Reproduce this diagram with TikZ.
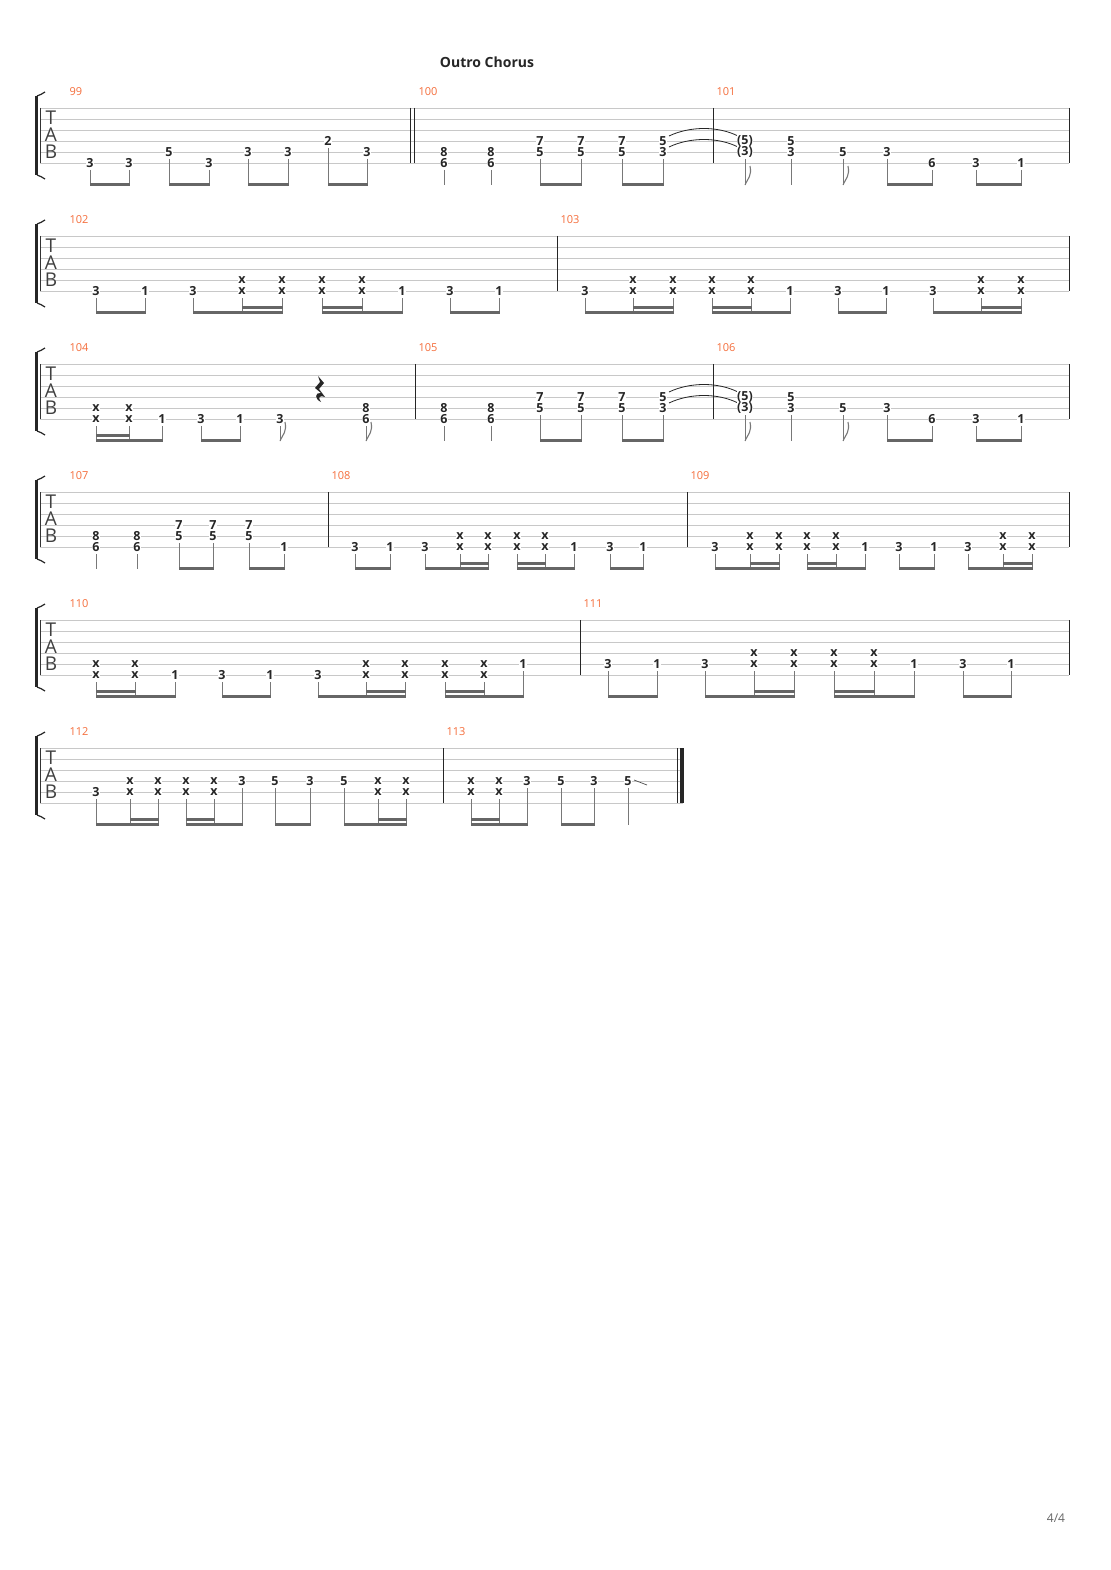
\documentclass[tikz,border=0pt]{standalone}
\usepackage{fontspec}
\setmainfont{Open Sans}
\begin{document}
\begin{tikzpicture}[x=1pt,y=-1pt]
\definecolor{mnum}{RGB}{245,110,60}
\definecolor{stl}{RGB}{200,200,200}
\definecolor{stc}{RGB}{120,120,120}
\tikzset{num/.style={fill=white,inner sep=0.6pt,font=\fontsize{12.5}{12.5}\selectfont\bfseries,text=black!85},
 stemc/.style={draw=stc,line width=0.9pt},
 tabl/.style={font=\fontsize{19}{19}\selectfont,text=black!75,inner sep=0pt},
 mn/.style={font=\fontsize{11}{11}\selectfont,text=mnum,anchor=west}}
\useasboundingbox (0,0) rectangle (1110,1570);
\fill[white] (0,0) rectangle (1110,1570);
\newcommand\sysx[1]{%
 \foreach \k in {0,...,5}{\draw[stl,line width=0.8pt] (40,\k*11) -- (#1,\k*11);}
 \draw[black!80,line width=0.6pt] (40,0) -- (40,55);
 \fill[black!85] (35,-12) rectangle (38,67);
 \draw[black!85,line width=1.2pt] (37,-12) .. controls (40,-13) and (42,-14) .. (45,-16);
 \draw[black!85,line width=1.2pt] (37,67) .. controls (40,68) and (42,69) .. (45,71);
 \node[tabl] at (51,10) {T};
 \node[tabl] at (51,27) {A};
 \node[tabl] at (51,44) {B};}
\newcommand\bl[1]{\draw[black!85,line width=1pt] (#1,0) -- (#1,55);}
\newcommand\mnm[2]{\node[mn] at (#1,-16) {#2};}
\newcommand\nt[3]{\node[num] at (#1,{(#2-1)*11}) {#3};}
\newcommand\st[2]{\draw[stemc] (#1,{(#2-1)*11+7}) -- (#1,77);}
\newcommand\sn[3]{\nt{#1}{#2}{#3}\st{#1}{#2}}
\newcommand\xs[2]{\nt{#1}{#2}{x}\sn{#1}{#2+1}{x}}
\newcommand\bm[2]{\fill[black!60] (#1-0.5,75.3) rectangle (#2+0.5,78);}
\newcommand\bmm[2]{\fill[black!60] (#1-0.5,70.3) rectangle (#2+0.5,73);}
\newcommand\fl[1]{\draw[stemc,line width=1.1pt] (#1,77) .. controls (#1+3,70) and (#1+7,68) .. (#1+5,58);}
\newcommand\chd[5]{\nt{#1}{#2}{#3}\sn{#1}{#4}{#5}}
\newcommand\mA{%
 \chd{444}{5}{8}{6}{6}\chd{491}{5}{8}{6}{6}
 \chd{540}{4}{7}{5}{5}\chd{581}{4}{7}{5}{5}\chd{622}{4}{7}{5}{5}\chd{663}{4}{5}{5}{3}
 \bm{540}{581}\bm{622}{663}
 \draw[black!85,line width=0.8pt] (669,28) .. controls (690,18) and (718,18) .. (738,28);
 \draw[black!85,line width=0.8pt] (669,39) .. controls (690,29) and (718,29) .. (738,39);}
\newcommand\mB{%
 \chd{745}{4}{(5)}{5}{(3)}\fl{745}
 \chd{791}{4}{5}{5}{3}
 \sn{843}{5}{5}\fl{843}
 \sn{887}{5}{3}\sn{932}{6}{6}\bm{887}{932}
 \sn{976}{6}{3}\sn{1021}{6}{1}\bm{976}{1021}}
\node[font=\fontsize{14}{14}\selectfont\bfseries,text=black!85] at (487,62) {Outro Chorus};
\node[font=\fontsize{12}{12}\selectfont,text=black!60] at (1056,1518) {4/4};
\begin{scope}[shift={(0,108)}]
\sysx{1069}
\bl{410}\bl{414}\bl{713}\bl{1069}
\mnm{66}{99}\mnm{415}{100}\mnm{713}{101}
\sn{90}{6}{3}\sn{129}{6}{3}\bm{90}{129}
\sn{169}{5}{5}\sn{209}{6}{3}\bm{169}{209}
\sn{248}{5}{3}\sn{288}{5}{3}\bm{248}{288}
\sn{328}{4}{2}\sn{367}{5}{3}\bm{328}{367}
\mA\mB
\end{scope}
\begin{scope}[shift={(0,236)}]
\sysx{1069}
\bl{557}\bl{1069}
\mnm{66}{102}\mnm{557}{103}
\sn{96}{6}{3}\sn{145}{6}{1}\bm{96}{145}
\sn{193}{6}{3}\xs{242}{5}\xs{282}{5}\bm{193}{282}\bmm{242}{282}
\xs{322}{5}\xs{362}{5}\sn{402}{6}{1}\bm{322}{402}\bmm{322}{362}
\sn{450}{6}{3}\sn{499}{6}{1}\bm{450}{499}
\sn{585}{6}{3}\xs{633}{5}\xs{673}{5}\bm{585}{673}\bmm{633}{673}
\xs{712}{5}\xs{751}{5}\sn{790}{6}{1}\bm{712}{790}\bmm{712}{751}
\sn{838}{6}{3}\sn{886}{6}{1}\bm{838}{886}
\sn{933}{6}{3}\xs{981}{5}\xs{1021}{5}\bm{933}{1021}\bmm{981}{1021}
\end{scope}
\begin{scope}[shift={(0,364)}]
\sysx{1069}
\bl{415}\bl{713}\bl{1069}
\mnm{66}{104}\mnm{415}{105}\mnm{713}{106}
\xs{96}{5}\xs{129}{5}\sn{162}{6}{1}\bm{96}{162}\bmm{96}{129}
\sn{201}{6}{3}\sn{240}{6}{1}\bm{201}{240}
\sn{280}{6}{3}\fl{280}
\fill[black!85] (318,12) -- (324,19) -- (319,25) -- (325,33) .. controls (320,31) and (317,33) .. (321,38) .. controls (314,35) and (315,28) .. (321,29) -- (315,24) -- (320,18) -- cycle;
\chd{366}{5}{8}{6}{6}\fl{366}
\mA\mB
\end{scope}
\begin{scope}[shift={(0,492)}]
\sysx{1069}
\bl{328}\bl{687}\bl{1069}
\mnm{66}{107}\mnm{328}{108}\mnm{687}{109}
\chd{96}{5}{8}{6}{6}\chd{137}{5}{8}{6}{6}
\chd{179}{4}{7}{5}{5}\chd{213}{4}{7}{5}{5}\bm{179}{213}
\chd{249}{4}{7}{5}{5}\sn{284}{6}{1}\bm{249}{284}
\sn{355}{6}{3}\sn{390}{6}{1}\bm{355}{390}
\sn{425}{6}{3}\xs{460}{5}\xs{488}{5}\bm{425}{488}\bmm{460}{488}
\xs{517}{5}\xs{545}{5}\sn{574}{6}{1}\bm{517}{574}\bmm{517}{545}
\sn{610}{6}{3}\sn{643}{6}{1}\bm{610}{643}
\sn{715}{6}{3}\xs{750}{5}\xs{779}{5}\bm{715}{779}\bmm{750}{779}
\xs{807}{5}\xs{836}{5}\sn{865}{6}{1}\bm{807}{865}\bmm{807}{836}
\sn{899}{6}{3}\sn{934}{6}{1}\bm{899}{934}
\sn{968}{6}{3}\xs{1003}{5}\xs{1032}{5}\bm{968}{1032}\bmm{1003}{1032}
\end{scope}
\begin{scope}[shift={(0,620)}]
\sysx{1069}
\bl{580}\bl{1069}
\mnm{66}{110}\mnm{580}{111}
\xs{96}{5}\xs{135}{5}\sn{175}{6}{1}\bm{96}{175}\bmm{96}{135}
\sn{222}{6}{3}\sn{270}{6}{1}\bm{222}{270}
\sn{318}{6}{3}\xs{366}{5}\xs{405}{5}\bm{318}{405}\bmm{366}{405}
\xs{445}{5}\xs{484}{5}\sn{523}{5}{1}\bm{445}{523}\bmm{445}{484}
\sn{608}{5}{3}\sn{657}{5}{1}\bm{608}{657}
\sn{705}{5}{3}\xs{754}{4}\xs{794}{4}\bm{705}{794}\bmm{754}{794}
\xs{834}{4}\xs{874}{4}\sn{914}{5}{1}\bm{834}{914}\bmm{834}{874}
\sn{963}{5}{3}\sn{1011}{5}{1}\bm{963}{1011}
\end{scope}
\begin{scope}[shift={(0,748)}]
\sysx{683}
\bl{443}\draw[black!85,line width=0.8pt] (677,0) -- (677,55);\fill[black!85] (680,0) rectangle (684,55);
\mnm{66}{112}\mnm{443}{113}
\sn{96}{5}{3}\xs{130}{4}\xs{158}{4}\bm{96}{158}\bmm{130}{158}
\xs{186}{4}\xs{214}{4}\sn{242}{4}{3}\bm{186}{242}\bmm{186}{214}
\sn{275}{4}{5}\sn{310}{4}{3}\bm{275}{310}
\sn{344}{4}{5}\xs{378}{4}\xs{406}{4}\bm{344}{406}\bmm{378}{406}
\xs{471}{4}\xs{499}{4}\sn{527}{4}{3}\bm{471}{527}\bmm{471}{499}
\sn{561}{4}{5}\sn{594}{4}{3}\bm{561}{594}
\sn{628}{4}{5}
\draw[black!70,line width=0.7pt] (634,32) -- (647,37);
\end{scope}
\end{tikzpicture}
\end{document}
